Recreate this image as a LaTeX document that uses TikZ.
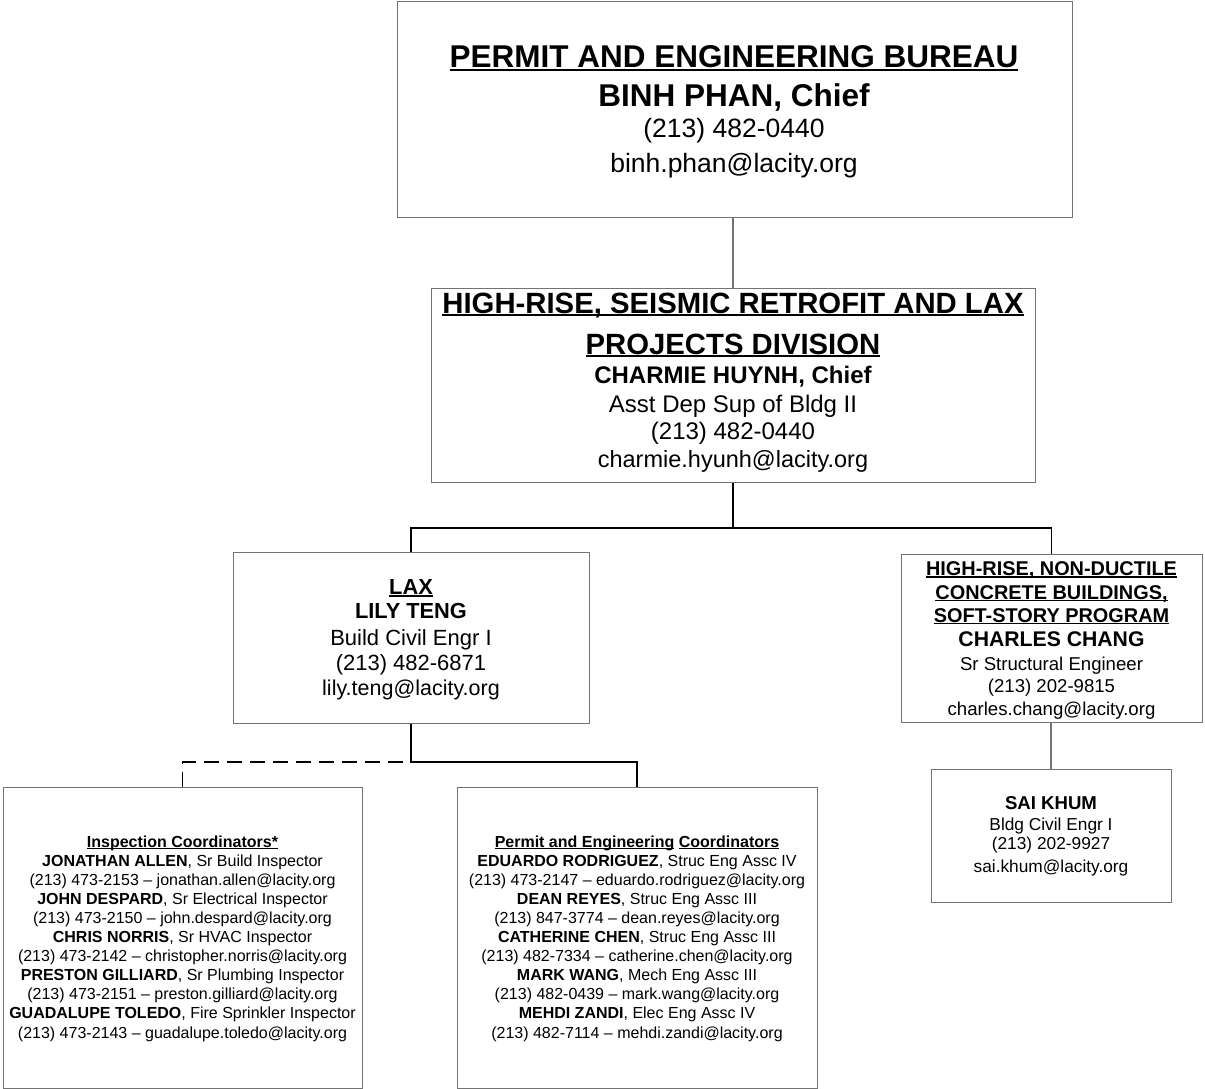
\documentclass[tikz,border=0pt]{standalone}
\usepackage{fontspec}
\setmainfont{Liberation Sans}
\newsavebox\ulbox
\newcommand\myul[1]{\sbox\ulbox{#1}\rlap{\rule[-0.105em]{\wd\ulbox}{0.07em}}\usebox\ulbox}
\definecolor{boxgray}{gray}{0.45}
\tikzset{
  box/.style={draw=boxgray, line width=1pt, inner sep=0pt},
  conn/.style={draw=black, line width=1.5pt},
  gconn/.style={draw=boxgray, line width=1.1pt},
  tl/.style={anchor=base, inner sep=0pt},
}
\begin{document}
\begin{tikzpicture}[x=1pt,y=-1pt]
\useasboundingbox (0,0) rectangle (1205,1089);
% boxes
\node[box, minimum width=675pt, minimum height=215pt] (bureau) at (734.5,109.5) {};
\node[box, minimum width=604pt, minimum height=194pt] (division) at (733,385) {};
\node[box, minimum width=356pt, minimum height=171pt] (lax) at (411,637.5) {};
\node[box, minimum width=301pt, minimum height=168pt] (hr) at (1051.5,638) {};
\node[box, minimum width=240pt, minimum height=133pt] (sai) at (1051,835.5) {};
\node[box, minimum width=359pt, minimum height=301pt] (ic) at (182.5,937.5) {};
\node[box, minimum width=360pt, minimum height=301pt] (pec) at (637,937.5) {};
% connectors
\draw[gconn] (bureau.south -| division.north) -- (division.north);
\coordinate (bus) at (733,528);
\draw[conn] (division.south) -- (bus);
\draw[conn] (lax.north) |- (bus) -| (hr.north);
\coordinate (lbus) at (411,762);
\draw[conn] (lax.south) -- (lbus) -| (pec.north);
\draw[conn, dash pattern=on 15pt off 8pt] (ic.north) |- (lbus);
\draw[gconn] (hr.south -| sai.north) -- (sai.north);
% bureau text
\node[tl, font=\fontsize{31.5}{36}\selectfont\bfseries] (b1) at (734,68) {\myul{PERMIT AND ENGINEERING BUREAU}};
\node[tl, font=\fontsize{31.5}{36}\selectfont\bfseries] (b2) at (734,107) {BINH PHAN, Chief};
\node[tl, font=\fontsize{26.5}{30}\selectfont] (b3) at (734,138) {(213) 482-0440};
\node[tl, font=\fontsize{26.5}{30}\selectfont] (b4) at (734,172) {binh.phan@lacity.org};
% division text
\node[tl, font=\fontsize{29.3}{34}\selectfont\bfseries] (d1) at (733,313) {\myul{HIGH-RISE, SEISMIC RETROFIT AND LAX}};
\node[tl, font=\fontsize{29.3}{34}\selectfont\bfseries] (d2) at (733,354) {\myul{PROJECTS DIVISION}};
\node[tl, font=\fontsize{24}{28}\selectfont\bfseries] (d3) at (733,383) {CHARMIE HUYNH, Chief};
\node[tl, font=\fontsize{24}{28}\selectfont] (d4) at (733,412) {Asst Dep Sup of Bldg II};
\node[tl, font=\fontsize{24}{28}\selectfont] (d5) at (733,439) {(213) 482-0440};
\node[tl, font=\fontsize{23.5}{28}\selectfont] (d6) at (733,467) {charmie.hyunh@lacity.org};
% LAX text
\node[tl, font=\fontsize{21.8}{26}\selectfont\bfseries] (l1) at (411,594.5) {\myul{LAX}};
\node[tl, font=\fontsize{21.8}{26}\selectfont\bfseries] (l2) at (411,618) {LILY TENG};
\node[tl, font=\fontsize{22}{26}\selectfont] (l3) at (411,645) {Build Civil Engr I};
\node[tl, font=\fontsize{22}{26}\selectfont] (l4) at (411,670) {(213) 482-6871};
\node[tl, font=\fontsize{21.5}{26}\selectfont] (l5) at (411,695.5) {lily.teng@lacity.org};
% high-rise program text
\node[tl, font=\fontsize{19.9}{24}\selectfont\bfseries] (h1) at (1051.5,575.5) {\myul{HIGH-RISE, NON-DUCTILE}};
\node[tl, font=\fontsize{19.9}{24}\selectfont\bfseries] (h2) at (1051.5,599) {\myul{CONCRETE BUILDINGS,}};
\node[tl, font=\fontsize{19.9}{24}\selectfont\bfseries] (h3) at (1051.5,622) {\myul{SOFT-STORY PROGRAM}};
\node[tl, font=\fontsize{21.2}{24}\selectfont\bfseries] (h4) at (1051.5,646) {CHARLES CHANG};
\node[tl, font=\fontsize{18.6}{22}\selectfont] (h5) at (1051.5,670) {Sr Structural Engineer};
\node[tl, font=\fontsize{18.6}{22}\selectfont] (h6) at (1051.5,692.5) {(213) 202-9815};
\node[tl, font=\fontsize{18.6}{22}\selectfont] (h7) at (1051.5,715) {charles.chang@lacity.org};
% Sai text
\node[tl, font=\fontsize{18.6}{22}\selectfont\bfseries] (s1) at (1051,809) {SAI KHUM};
\node[tl, font=\fontsize{17.3}{21}\selectfont] (s2) at (1051,830) {Bldg Civil Engr I};
\node[tl, font=\fontsize{17.3}{21}\selectfont] (s3) at (1051,849.5) {(213) 202-9927};
\node[tl, font=\fontsize{17.3}{21}\selectfont] (s4) at (1051,872) {sai.khum@lacity.org};
% inspection coordinators
\begin{scope}[every node/.style={tl, font=\fontsize{16}{19}\selectfont}]
\node (i1) at (182.5,847) {\textbf{\myul{Inspection Coordinators*}}};
\node (i2) at (182.5,866.1) {\textbf{JONATHAN ALLEN}, Sr Build Inspector};
\node (i3) at (182.5,885.2) {(213) 473-2153 – jonathan.allen@lacity.org};
\node (i4) at (182.5,904.3) {\textbf{JOHN DESPARD}, Sr Electrical Inspector};
\node (i5) at (182.5,923.4) {(213) 473-2150 – john.despard@lacity.org};
\node (i6) at (182.5,942.5) {\textbf{CHRIS NORRIS}, Sr HVAC Inspector};
\node (i7) at (182.5,961.6) {(213) 473-2142 – christopher.norris@lacity.org};
\node (i8) at (182.5,980.7) {\textbf{PRESTON GILLIARD}, Sr Plumbing Inspector};
\node (i9) at (182.5,999.8) {(213) 473-2151 – preston.gilliard@lacity.org};
\node (i10) at (182.5,1018.9) {\textbf{GUADALUPE TOLEDO}, Fire Sprinkler Inspector};
\node (i11) at (182.5,1038) {(213) 473-2143 – guadalupe.toledo@lacity.org};
% permit and engineering coordinators
\node (p1) at (637,847) {\textbf{\myul{Permit and Engineering} \myul{Coordinators}}};
\node (p2) at (637,866.1) {\textbf{EDUARDO RODRIGUEZ}, Struc Eng Assc IV};
\node (p3) at (637,885.2) {(213) 473-2147 – eduardo.rodriguez@lacity.org};
\node (p4) at (637,904.3) {\textbf{DEAN REYES}, Struc Eng Assc III};
\node (p5) at (637,923.4) {(213) 847-3774 – dean.reyes@lacity.org};
\node (p6) at (637,942.5) {\textbf{CATHERINE CHEN}, Struc Eng Assc III};
\node (p7) at (637,961.6) {(213) 482-7334 – catherine.chen@lacity.org};
\node (p8) at (637,980.7) {\textbf{MARK WANG}, Mech Eng Assc III};
\node (p9) at (637,999.8) {(213) 482-0439 – mark.wang@lacity.org};
\node (p10) at (637,1018.9) {\textbf{MEHDI ZANDI}, Elec Eng Assc IV};
\node (p11) at (637,1038) {(213) 482-7114 – mehdi.zandi@lacity.org};
\end{scope}
\end{tikzpicture}
\end{document}
